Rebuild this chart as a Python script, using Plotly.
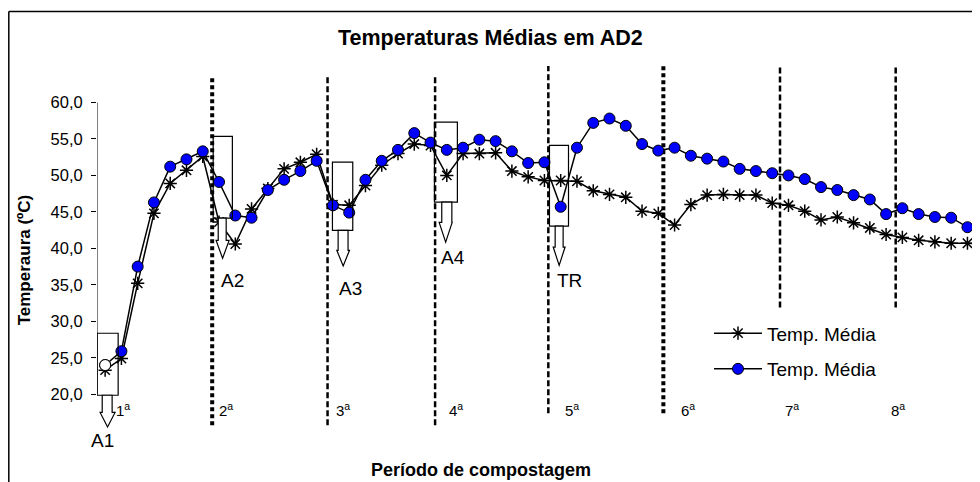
import plotly.graph_objects as go

# ---------------- data ----------------
days = list(range(1, 56))
temp_conv = [23.3, 24.9, 35.2, 44.8, 48.9, 50.7, 52.6, 43.6, 40.6, 45.4,
             48.2, 50.9, 51.8, 52.9, 46.0, 45.9, 48.6, 51.4, 53.0, 54.3,
             54.1, 50.0, 53.0, 53.0, 53.1, 50.6, 49.8, 49.3, 49.3, 49.2,
             47.9, 47.4, 47.0, 45.1, 44.8, 43.2, 46.0, 47.3, 47.4, 47.3,
             47.3, 46.2, 45.9, 45.1, 43.9, 44.3, 43.5, 42.8, 41.9, 41.5,
             41.1, 40.9, 40.7, 40.7, 40.6]
temp_mec = [24.0, 25.9, 37.5, 46.3, 51.2, 52.2, 53.3, 49.1, 44.5, 44.2,
            48.0, 49.4, 50.6, 52.0, 45.9, 44.9, 49.4, 52.0, 53.5, 55.8,
            54.5, 53.5, 53.8, 54.9, 54.7, 53.3, 51.7, 51.8, 45.7, 53.8,
            57.2, 57.8, 56.8, 54.3, 53.4, 53.8, 52.7, 52.3, 51.9, 50.9,
            50.6, 50.3, 50.0, 49.5, 48.4, 48.0, 47.3, 46.7, 44.7, 45.5,
            44.7, 44.3, 44.2, 42.9, 41.9]
series_names = ["Temp. Média", "Temp. Média"]
period_labels = ["1<sup>a</sup>", "2<sup>a</sup>", "3<sup>a</sup>", "4<sup>a</sup>",
                 "5<sup>a</sup>", "6<sup>a</sup>", "7<sup>a</sup>", "8<sup>a</sup>"]
y_ticks = [20, 25, 30, 35, 40, 45, 50, 55, 60]
callout_labels = ["A1", "A2", "A3", "A4", "TR"]

# ---------------- decoration positions (axis units) ----------------
period_bounds = [7.58, 14.67, 21.28, 28.24, 35.31, 42.48, 49.59]
bound_top = [63.7, 63.7, 63.7, 65.0, 65.0, 65.0, 65.0]
bound_bottom = [15.75, 15.75, 15.75, 17.4, 17.4, 31.9, 31.9]
bound_style = [("4px,3px", 4), ("6px,3px", 2.5), ("6px,3px", 2.5), ("6px,3px", 2.5),
               ("4px,3px", 4), ("6px,3px", 2.5), ("6px,3px", 2.5)]
period_label_x = [2.11, 8.44, 15.63, 22.57, 29.7, 36.83, 43.22, 49.74]
period_label_y = 17.95

# callout: (box x0, x1, top, bottom, stem x0, x1, stem bottom, head x0, x1, tip, label x, label y)
callouts = [
    (0.51, 1.80, 28.36, 19.86, 0.82, 1.43, 17.5, 0.69, 1.61, 15.5, 0.75, 13.7),
    (7.64, 8.82, 55.34, 44.15, 7.95, 8.44, 41.1, 7.82, 8.62, 38.63, 8.84, 35.6),
    (14.97, 16.22, 51.82, 42.47, 15.32, 15.93, 39.73, 15.24, 16.02, 37.58, 16.06, 34.5),
    (21.24, 22.65, 57.3, 46.34, 21.69, 22.31, 43.56, 21.53, 22.33, 40.86, 22.39, 38.8),
    (28.31, 29.48, 54.11, 43.05, 28.66, 29.15, 40.18, 28.54, 29.27, 37.67, 29.52, 35.6),
]

FONT = "Liberation Sans, Arial, sans-serif"

# plot area in page pixels (page has an 8px body margin)
PL, PT, PB, PR = 97.0, 65.5, 437.8, 980.0
PW, PH = PR - PL, PB - PT


def px(xp):
    return (xp - PL) / PW


def py(yp):
    return (PB - yp) / PH


fig = go.Figure()

fig.add_trace(go.Scatter(
    x=days, y=temp_conv, mode="lines+markers", name=series_names[0],
    legendgroup="g1",
    line=dict(color="black", width=1.5),
    marker=dict(symbol="asterisk", size=11, line=dict(color="black", width=1.5)),
))
fig.add_trace(go.Scatter(
    x=days, y=temp_mec, mode="lines+markers", name=series_names[1],
    legendgroup="g2",
    line=dict(color="black", width=1.5),
    marker=dict(symbol="circle", size=11, color="#0000FF",
                line=dict(color="black", width=1)),
))
# first reading shown as an open marker
fig.add_trace(go.Scatter(
    x=days[:1], y=temp_mec[:1], mode="markers", showlegend=False,
    marker=dict(symbol="circle", size=11, color="white",
                line=dict(color="black", width=1)),
))

shapes = []
for xb, yt, yb, (dash, w) in zip(period_bounds, bound_top, bound_bottom, bound_style):
    shapes.append(dict(type="line", xref="x", yref="y", x0=xb, x1=xb, y0=yb, y1=yt,
                       line=dict(color="black", width=w, dash=dash), layer="below"))
shapes.append(dict(type="line", xref="x", yref="y", x0=0.5, x1=0.5, y0=20, y1=60,
                   line=dict(color="black", width=1)))

annotations = []
for i, (lab, c) in enumerate(zip(callout_labels, callouts)):
    bx0, bx1, bt, bb, sx0, sx1, sb, hx0, hx1, tip, lx, ly = c
    shapes.append(dict(type="rect", xref="x", yref="y", x0=bx0, x1=bx1, y0=bb, y1=bt,
                       line=dict(color="black", width=1.2), fillcolor="rgba(0,0,0,0)"))
    hm = (hx0 + hx1) / 2
    path = (f"M{sx0},{bb} L{sx0},{sb} L{hx0},{sb} L{hm},{tip} L{hx1},{sb} "
            f"L{sx1},{sb} L{sx1},{bb} Z")
    shapes.append(dict(type="path", xref="x", yref="y", path=path,
                       line=dict(color="black", width=1.2), fillcolor="white"))
    if i == 0:
        annotations.append(dict(x=px(102), y=py(440), xref="paper", yref="paper", text=lab,
                                showarrow=False, xanchor="center", yanchor="middle",
                                font=dict(size=19, color="black", family=FONT)))
    else:
        annotations.append(dict(x=lx, y=ly, xref="x", yref="y", text=lab, showarrow=False,
                                xanchor="center", yanchor="middle",
                                font=dict(size=19, color="black", family=FONT)))

# chart border (left and top edges; the rest lies outside the picture)
border = dict(color="black", width=1.5)
shapes.append(dict(type="line", xref="paper", yref="paper", x0=px(8.8), x1=px(8.8),
                   y0=py(490), y1=py(11), line=border))
shapes.append(dict(type="line", xref="paper", yref="paper", x0=px(8.8), x1=px(980),
                   y0=py(11), y1=py(11), line=border))

for lab, lx in zip(period_labels, period_label_x):
    annotations.append(dict(x=lx, y=period_label_y, xref="x", yref="y", text=lab,
                            showarrow=False, xanchor="center", yanchor="middle",
                            font=dict(size=15, color="black", family=FONT)))

annotations.append(dict(x=px(24), y=py(260), xref="paper", yref="paper",
                        text="<b>Temperaura (ºC)</b>", textangle=-90, showarrow=False,
                        xanchor="center", yanchor="middle",
                        font=dict(size=17, color="black", family=FONT)))
annotations.append(dict(x=px(481), y=py(470), xref="paper", yref="paper",
                        text="<b>Período de compostagem</b>", showarrow=False,
                        xanchor="center", yanchor="middle",
                        font=dict(size=18, color="black", family=FONT)))
annotations.append(dict(x=px(490), y=py(37), xref="paper", yref="paper",
                        text="<b>Temperaturas Médias em AD2</b>", showarrow=False,
                        xanchor="center", yanchor="middle",
                        font=dict(size=21.5, color="black", family=FONT)))

fig.update_layout(
    width=972, height=474,
    margin=dict(l=PL - 8, r=0, t=PT - 8, b=474 - (PB - 8), pad=0),
    paper_bgcolor="white", plot_bgcolor="white",
    font=dict(family=FONT, color="black"),
    showlegend=True,
    legend=dict(x=px(709), y=py(314), xanchor="left", yanchor="top",
                font=dict(size=19, color="black", family=FONT), itemwidth=48,
                bgcolor="rgba(0,0,0,0)", traceorder="grouped", tracegroupgap=8),
    xaxis=dict(range=[0.5, 0.5 + (PR - PL) / 16.27], showgrid=False, zeroline=False,
               showline=False, showticklabels=False, ticks=""),
    yaxis=dict(range=[14, 65], showgrid=False, zeroline=False, showline=False,
               tickvals=y_ticks, ticktext=[f"{v:.1f}".replace(".", ",") for v in y_ticks],
               ticks="outside", ticklen=5, tickcolor="black", tickwidth=1,
               ticklabelstandoff=5,
               tickfont=dict(size=16.5, color="black", family=FONT)),
    shapes=shapes,
    annotations=annotations,
)

fig.write_html("out.html")
